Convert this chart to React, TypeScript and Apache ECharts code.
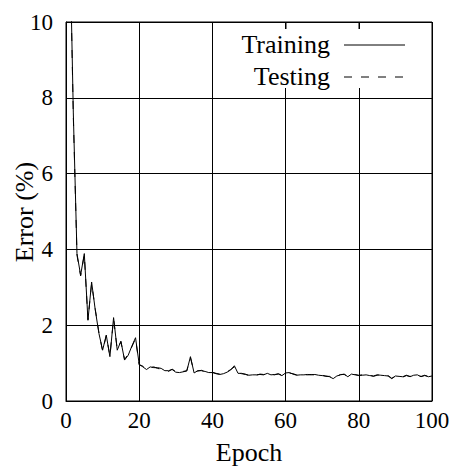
import React, { useEffect, useRef } from "react";
import * as echarts from "echarts";

const epochs: number[] = Array.from({ length: 100 }, (_, i) => i + 1);

const trainingError: number[] = [
  12.5, 7.6, 3.89, 3.32, 3.89, 2.13, 3.14, 2.4, 1.78, 1.34,
  1.74, 1.17, 2.2, 1.34, 1.58, 1.08, 1.21, 1.45, 1.67, 0.97,
  0.9, 0.83, 0.9, 0.88, 0.88, 0.86, 0.8, 0.8, 0.83, 0.76,
  0.75, 0.77, 0.79, 1.17, 0.74, 0.8, 0.8, 0.78, 0.75, 0.75,
  0.72, 0.7, 0.72, 0.76, 0.82, 0.93, 0.73, 0.73, 0.7, 0.68,
  0.69, 0.69, 0.7, 0.69, 0.73, 0.69, 0.7, 0.71, 0.67, 0.74,
  0.75, 0.71, 0.68, 0.69, 0.69, 0.7, 0.69, 0.7, 0.68, 0.67,
  0.66, 0.64, 0.59, 0.66, 0.69, 0.71, 0.64, 0.71, 0.69, 0.68,
  0.68, 0.69, 0.67, 0.66, 0.69, 0.68, 0.67, 0.66, 0.59, 0.66,
  0.65, 0.64, 0.68, 0.64, 0.68, 0.69, 0.64, 0.68, 0.64, 0.66,
];

const testingError: number[] = [
  12.4, 7.5, 3.85, 3.3, 3.86, 2.15, 3.1, 2.42, 1.8, 1.32,
  1.72, 1.19, 2.17, 1.36, 1.56, 1.1, 1.23, 1.43, 1.65, 0.95,
  0.92, 0.85, 0.88, 0.9, 0.86, 0.84, 0.82, 0.78, 0.84, 0.78,
  0.74, 0.78, 0.8, 1.14, 0.76, 0.79, 0.81, 0.77, 0.74, 0.76,
  0.73, 0.71, 0.71, 0.77, 0.83, 0.9, 0.74, 0.72, 0.71, 0.67,
  0.7, 0.68, 0.71, 0.7, 0.72, 0.7, 0.69, 0.72, 0.68, 0.73,
  0.74, 0.72, 0.69, 0.68, 0.7, 0.69, 0.7, 0.69, 0.67, 0.68,
  0.65, 0.65, 0.6, 0.65, 0.7, 0.7, 0.65, 0.7, 0.7, 0.67,
  0.69, 0.68, 0.68, 0.65, 0.68, 0.69, 0.66, 0.67, 0.6, 0.65,
  0.66, 0.63, 0.67, 0.65, 0.67, 0.68, 0.65, 0.67, 0.65, 0.65,
];

const seriesNames = ["Training", "Testing"];
const xAxisTitle = "Epoch";
const yAxisTitle = "Error (%)";

const FONT = "'Liberation Serif', 'Times New Roman', serif";

export default function App() {
  const ref = useRef<HTMLDivElement>(null);

  useEffect(() => {
    if (!ref.current) return;
    const chart = echarts.init(ref.current, undefined, { renderer: "svg" });
    const toPairs = (vals: number[]) => epochs.map((e, i) => [e, vals[i]]);

    chart.setOption({
      animation: false,
      backgroundColor: "#ffffff",
      grid: {
        left: 66,
        right: 28,
        top: 22,
        bottom: 67,
        containLabel: false,
        outerBoundsMode: "none",
        show: true,
        borderColor: "#000",
        borderWidth: 1,
        backgroundColor: "transparent",
      },
      xAxis: {
        type: "value",
        min: 0,
        max: 100,
        interval: 20,
        axisLine: { show: true, lineStyle: { color: "#000", width: 1 } },
        axisTick: { show: false },
        axisLabel: { fontFamily: FONT, fontSize: 23, color: "#000", margin: 8 },
        splitLine: { show: true, lineStyle: { color: "#000", width: 1 } },
      },
      yAxis: {
        type: "value",
        min: 0,
        max: 10,
        interval: 2,
        axisLine: { show: true, lineStyle: { color: "#000", width: 1 } },
        axisTick: { show: false },
        axisLabel: { fontFamily: FONT, fontSize: 23, color: "#000", margin: 13 },
        splitLine: { show: true, lineStyle: { color: "#000", width: 1 } },
      },
      series: [
        {
          name: seriesNames[0],
          type: "line",
          data: toPairs(trainingError),
          showSymbol: false,
          symbol: "none",
          clip: true,
          lineStyle: { color: "#000", width: 1, type: "solid" },
          z: 3,
        },
        {
          name: seriesNames[1],
          type: "line",
          data: toPairs(testingError),
          showSymbol: false,
          symbol: "none",
          clip: true,
          lineStyle: { color: "#000", width: 1, type: [8, 9] },
          z: 4,
        },
      ],
      graphic: [
        {
          type: "text",
          x: 249,
          y: 452,
          style: {
            text: xAxisTitle,
            fontFamily: FONT,
            fontSize: 26,
            fill: "#000",
            align: "center",
            verticalAlign: "middle",
          },
        },
        {
          type: "text",
          x: 24,
          y: 212,
          rotation: Math.PI / 2,
          style: {
            text: yAxisTitle,
            fontFamily: FONT,
            fontSize: 26,
            fill: "#000",
            align: "center",
            verticalAlign: "middle",
          },
        },
        {
          type: "rect",
          shape: { x: 228, y: 29, width: 203, height: 59 },
          style: { fill: "#fff" },
          z: 100,
        },
        {
          type: "text",
          x: 330,
          y: 44,
          style: {
            text: seriesNames[0],
            fontFamily: FONT,
            fontSize: 26,
            fill: "#000",
            align: "right",
            verticalAlign: "middle",
          },
          z: 101,
        },
        {
          type: "text",
          x: 330,
          y: 76,
          style: {
            text: seriesNames[1],
            fontFamily: FONT,
            fontSize: 26,
            fill: "#000",
            align: "right",
            verticalAlign: "middle",
          },
          z: 101,
        },
        {
          type: "line",
          shape: { x1: 344, y1: 45, x2: 405, y2: 45 },
          style: { stroke: "#000", lineWidth: 1 },
          z: 101,
        },
        {
          type: "line",
          shape: { x1: 344, y1: 77, x2: 405, y2: 77 },
          style: { stroke: "#000", lineWidth: 1, lineDash: [8, 9] },
          z: 101,
        },
        {
          type: "line",
          shape: { x1: 286, y1: 22, x2: 286, y2: 29 },
          style: { stroke: "#000", lineWidth: 1 },
          z: 102,
        },
        {
          type: "line",
          shape: { x1: 359, y1: 22, x2: 359, y2: 29 },
          style: { stroke: "#000", lineWidth: 1 },
          z: 102,
        },
      ],
    });

    return () => chart.dispose();
  }, []);

  return (
    <div
      ref={ref}
      style={{ position: "fixed", left: 0, top: 0, width: 460, height: 468, background: "#fff" }}
    />
  );
}
